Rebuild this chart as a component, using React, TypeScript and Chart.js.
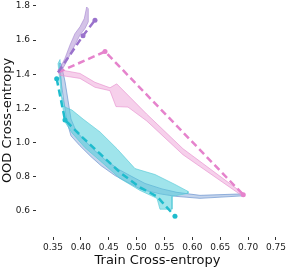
import React, { useEffect, useRef } from 'react';
import { Chart, registerables } from 'chart.js';

Chart.register(...registerables);

const xTicks = [0.35, 0.4, 0.45, 0.5, 0.55, 0.6, 0.65, 0.7, 0.75];
const xTickLabels = ['0.35', '0.40', '0.45', '0.50', '0.55', '0.60', '0.65', '0.70', '0.75'];
const yTicks = [0.6, 0.8, 1.0, 1.2, 1.4, 1.6, 1.8];
const yTickLabels = ['0.6', '0.8', '1.0', '1.2', '1.4', '1.6', '1.8'];

// dashed mean paths
const purpleX = [0.359, 0.4038, 0.4253];
const purpleY = [1.411, 1.626, 1.717];
const purpleMarkers = [1, 2];
const pinkX = [0.359, 0.4433, 0.6913];
const pinkY = [1.411, 1.533, 0.695];
const pinkMarkers = [1, 2];
const cyanX = [0.3566, 0.3715, 0.3769, 0.4038, 0.4343, 0.4702, 0.506, 0.5365, 0.5688];
const cyanY = [1.374, 1.132, 1.115, 1.028, 0.935, 0.825, 0.738, 0.685, 0.569];
const cyanMarkers = [0, 1, 8];

// bands: one edge and the other edge, both from start to end
const purpleBandAX = [0.3626, 0.3715, 0.3805, 0.3895, 0.3984, 0.4074, 0.4133, 0.4133];
const purpleBandAY = [1.407, 1.456, 1.514, 1.572, 1.63, 1.668, 1.707, 1.784];
const purpleBandBX = [0.3595, 0.3715, 0.3805, 0.3895, 0.3984, 0.4061, 0.4104];
const purpleBandBY = [1.417, 1.494, 1.572, 1.639, 1.678, 1.726, 1.794];

const pinkBandAX = [0.359, 0.3984, 0.4253, 0.4522, 0.4643, 0.5181, 0.5832, 0.6908];
const pinkBandAY = [1.4285, 1.405, 1.353, 1.321, 1.344, 1.167, 0.964, 0.703];
const pinkBandBX = [0.3626, 0.3984, 0.4253, 0.4522, 0.463, 0.4845, 0.5181, 0.5832, 0.6908];
const pinkBandBY = [1.394, 1.376, 1.324, 1.304, 1.211, 1.208, 1.127, 0.929, 0.685];

const cyanBandAX = [0.3626, 0.3661, 0.3715, 0.3841, 0.4038, 0.4343, 0.4648, 0.4971, 0.533, 0.5688, 0.5922];
const cyanBandAY = [1.4865, 1.2717, 1.2078, 1.1904, 1.1382, 1.0627, 0.964, 0.8479, 0.8131, 0.755, 0.7144];
const cyanBandBX = [0.359, 0.3661, 0.3715, 0.3841, 0.4074, 0.4343, 0.4702, 0.506, 0.5365, 0.5419, 0.5635, 0.5635, 0.5922];
const cyanBandBY = [1.4633, 1.2427, 1.1208, 1.0569, 0.9698, 0.8943, 0.7899, 0.7202, 0.6737, 0.6099, 0.6099, 0.6853, 0.7028];

const blueBandAX = [0.3644, 0.3715, 0.3769, 0.3823, 0.3913, 0.4056, 0.4253, 0.4433, 0.4684, 0.4881, 0.515, 0.5455, 0.5724, 0.6137, 0.6908];
const blueBandAY = [1.4633, 1.3588, 1.2485, 1.1382, 1.0685, 1.0163, 0.9524, 0.9002, 0.8421, 0.8073, 0.7608, 0.7289, 0.7086, 0.6912, 0.6999];
const blueBandBX = [0.3608, 0.3644, 0.3697, 0.3751, 0.3823, 0.3984, 0.4182, 0.4361, 0.4612, 0.4809, 0.5078, 0.5419, 0.5706, 0.6137, 0.6908];
const blueBandBY = [1.4633, 1.3588, 1.2369, 1.1208, 1.0395, 0.9814, 0.9176, 0.8653, 0.8073, 0.7724, 0.726, 0.6999, 0.6853, 0.6737, 0.6882];

const pts = (xs: number[], ys: number[]) => xs.map((x, i) => ({ x, y: ys[i] }));
const polygon = (ax: number[], ay: number[], bx: number[], by: number[]) => {
  const a = pts(ax, ay);
  const b = pts(bx, by).reverse();
  return [...a, ...b, a[0]];
};

const FONT = 'DejaVu Sans';

function band(data: any[], fill: string, border: string) {
  return {
    data,
    showLine: true,
    fill: 'shape',
    backgroundColor: fill,
    borderColor: border,
    borderWidth: 1,
    pointRadius: 0,
    tension: 0,
  };
}

function dashed(data: any[], color: string, markers: number[]) {
  return {
    data,
    showLine: true,
    fill: false,
    borderColor: color,
    backgroundColor: color,
    borderWidth: 2.5,
    borderDash: [7, 4],
    pointRadius: (ctx: any) => (markers.includes(ctx.dataIndex) ? 2.5 : 0),
    pointBorderWidth: 0,
    pointBackgroundColor: color,
    tension: 0,
  };
}

export default function App() {
  const ref = useRef<HTMLCanvasElement>(null);
  useEffect(() => {
    if (!ref.current) return;
    const chart = new Chart(ref.current, {
      type: 'scatter',
      data: {
        datasets: [
          dashed(pts(purpleX, purpleY), '#9a72cc', purpleMarkers),
          dashed(pts(pinkX, pinkY), '#e583cc', pinkMarkers),
          dashed(pts(cyanX, cyanY), '#1fbccd', cyanMarkers),
          band(polygon(purpleBandAX, purpleBandAY, purpleBandBX, purpleBandBY), 'rgba(170,135,210,0.5)', 'rgba(160,125,205,0.55)'),
          band(polygon(pinkBandAX, pinkBandAY, pinkBandBX, pinkBandBY), 'rgba(235,150,210,0.45)', 'rgba(230,140,205,0.6)'),
          band(polygon(cyanBandAX, cyanBandAY, cyanBandBX, cyanBandBY), 'rgba(80,205,218,0.55)', 'rgba(80,200,214,0.6)'),
          band(polygon(blueBandAX, blueBandAY, blueBandBX, blueBandBY), 'rgba(125,160,212,0.45)', 'rgba(110,150,208,0.7)'),
        ] as any,
      },
      options: {
        animation: false,
        responsive: false,
        maintainAspectRatio: false,
        layout: { padding: 0 },
        plugins: { legend: { display: false }, tooltip: { enabled: false } },
        scales: {
          x: {
            type: 'linear',
            min: 0.3195,
            max: 0.7554,
            afterBuildTicks: (s: any) => {
              s.ticks = xTicks.map((v) => ({ value: v }));
            },
            afterFit: (s: any) => {
              s.height = 31;
              s.paddingLeft = 0;
              s.paddingRight = 7;
            },
            ticks: {
              callback: (_v: any, i: number) => xTickLabels[i],
              font: { family: FONT, size: 9 },
              color: '#1a1a1a',
              padding: 2,
              maxRotation: 0,
              autoSkip: false,
            },
            grid: { drawOnChartArea: false, drawTicks: true, tickLength: 3, color: '#333', lineWidth: 1 },
            border: { display: false },
            title: {
              display: true,
              text: 'Train Cross-entropy',
              font: { family: FONT, size: 13 },
              color: '#111',
              padding: { top: 0, bottom: 0 },
            },
          },
          y: {
            type: 'linear',
            min: 0.4473,
            max: 1.8116,
            afterBuildTicks: (s: any) => {
              s.ticks = yTicks.map((v) => ({ value: v }));
            },
            afterFit: (s: any) => {
              s.width = 36;
              s.paddingTop = 2;
              s.paddingBottom = 0;
            },
            ticks: {
              callback: (_v: any, i: number) => yTickLabels[i],
              font: { family: FONT, size: 9 },
              color: '#1a1a1a',
              padding: 3,
              autoSkip: false,
            },
            grid: { drawOnChartArea: false, drawTicks: true, tickLength: 3, color: '#333', lineWidth: 1 },
            border: { display: false },
            title: {
              display: true,
              text: 'OOD Cross-entropy',
              font: { family: FONT, size: 13 },
              color: '#111',
              padding: { top: 0, bottom: 0 },
            },
          },
        },
      } as any,
    });
    return () => chart.destroy();
  }, []);
  return (
    <div style={{ position: 'fixed', left: 0, top: 0, width: 286, height: 268, background: '#fff' }}>
      <canvas ref={ref} width={286} height={268} style={{ width: 286, height: 268, display: 'block' }} />
    </div>
  );
}
